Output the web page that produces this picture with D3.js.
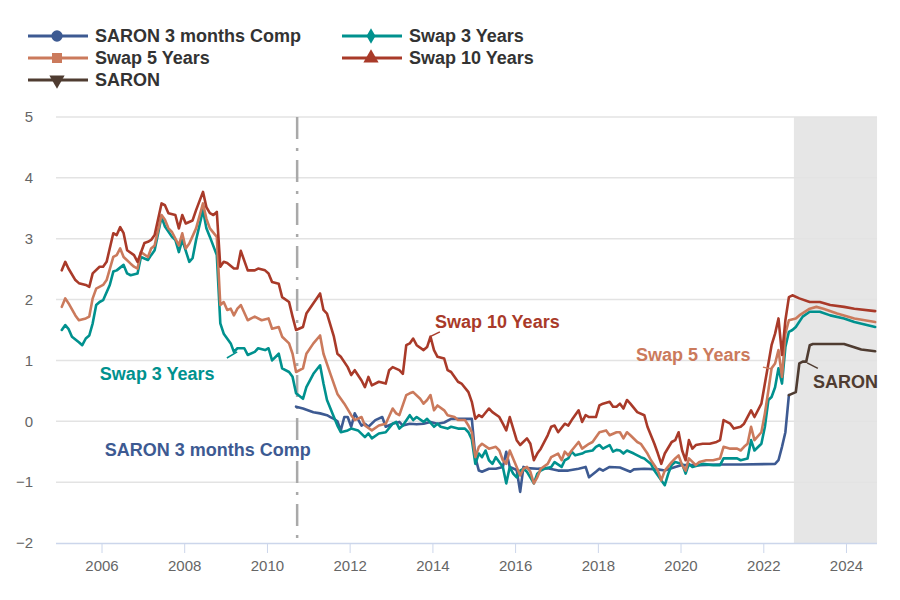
<!DOCTYPE html>
<html lang="en">
	<head>
		<meta charset="UTF-8" />
		<title>SARON and CHF swap rates</title>
		<style>
			html,
			body {
				margin: 0;
				padding: 0;
				width: 900px;
				height: 600px;
				overflow: hidden;
				background-color: #ffffff;
				font-family: 'Liberation Sans', Arial, sans-serif;
			}

			#chart {
				position: absolute;
				top: 0;
				left: 0;
			}

			.tick-label {
				fill: #666666;
				font-size: 15px;
			}

			.legend-label,
			.note {
				font-size: 18px;
				font-weight: bold;
			}
		</style>
	</head>
	<body>
		<svg id="chart"></svg>

		<script src="https://d3js.org/d3.v7.min.js"></script>

		<script>
			// monthly readings, [yyyy-mm, percent]
			const saronComp = [
				['2010-09', 0.24], ['2010-11', 0.21], ['2011-02', 0.15], ['2011-04', 0.13], ['2011-06', 0.1],
				['2011-07', 0.07], ['2011-08', 0.04], ['2011-09', 0.0], ['2011-10', -0.15], ['2011-11', 0.07],
				['2011-12', 0.07], ['2012-01', -0.09], ['2012-02', 0.13], ['2012-04', -0.07], ['2012-05', -0.04],
				['2012-06', -0.09], ['2012-08', 0.02], ['2012-10', 0.07], ['2012-11', -0.09], ['2013-01', -0.04],
				['2013-03', -0.01], ['2013-04', -0.07], ['2013-06', -0.04], ['2013-08', -0.05], ['2013-10', -0.04],
				['2013-12', -0.01], ['2014-02', -0.04], ['2014-04', -0.02], ['2014-06', 0.04], ['2014-08', 0.04],
				['2014-10', 0.04], ['2014-12', 0.04], ['2015-01', -0.59], ['2015-02', -0.81], ['2015-03', -0.83],
				['2015-05', -0.78], ['2015-07', -0.78], ['2015-09', -0.75], ['2015-10', -0.5], ['2015-11', -0.75],
				['2016-01', -0.8], ['2016-02', -1.16], ['2016-03', -0.75], ['2016-04', -0.77], ['2016-07', -0.78],
				['2016-10', -0.77], ['2017-01', -0.81], ['2017-04', -0.81], ['2017-07', -0.78], ['2017-09', -0.75],
				['2017-10', -0.92], ['2017-12', -0.83], ['2018-01', -0.78], ['2018-02', -0.81], ['2018-04', -0.75],
				['2018-07', -0.76], ['2018-10', -0.83], ['2018-11', -0.79], ['2019-02', -0.78], ['2019-06', -0.79],
				['2019-08', -0.81], ['2019-09', -0.79], ['2019-11', -0.75], ['2020-01', -0.72], ['2020-06', -0.72],
				['2020-12', -0.71], ['2021-06', -0.71], ['2022-04', -0.7], ['2022-05', -0.64], ['2022-06', -0.42],
				['2022-07', -0.18], ['2022-08', 0.43]
			];

			const swap3 = [
				['2005-01', 1.5], ['2005-02', 1.58], ['2005-03', 1.52], ['2005-04', 1.39], ['2005-06', 1.3],
				['2005-07', 1.25], ['2005-08', 1.36], ['2005-09', 1.41], ['2005-10', 1.61], ['2005-11', 1.91],
				['2005-12', 1.96], ['2006-01', 1.99], ['2006-03', 2.24], ['2006-04', 2.46], ['2006-05', 2.48],
				['2006-07', 2.57], ['2006-08', 2.43], ['2006-09', 2.4], ['2006-11', 2.43], ['2006-12', 2.7],
				['2007-02', 2.65], ['2007-03', 2.73], ['2007-04', 2.81], ['2007-06', 3.36], ['2007-07', 3.2],
				['2007-09', 3.03], ['2007-10', 2.98], ['2007-11', 2.78], ['2007-12', 2.98], ['2008-02', 2.62],
				['2008-03', 2.68], ['2008-04', 2.98], ['2008-06', 3.47], ['2008-07', 3.17], ['2008-08', 3.03],
				['2008-10', 2.73], ['2008-11', 1.61], ['2008-12', 1.44], ['2009-02', 1.28], ['2009-03', 1.14],
				['2009-04', 1.2], ['2009-06', 1.2], ['2009-07', 1.09], ['2009-09', 1.14], ['2009-10', 1.2],
				['2009-12', 1.17], ['2010-01', 1.2], ['2010-02', 1.0], ['2010-04', 1.11], ['2010-05', 0.87],
				['2010-07', 0.81], ['2010-08', 0.73], ['2010-09', 0.46], ['2010-11', 0.37], ['2010-12', 0.56],
				['2011-02', 0.78], ['2011-04', 0.92], ['2011-05', 0.62], ['2011-06', 0.35], ['2011-08', 0.07],
				['2011-09', -0.07], ['2011-10', -0.18], ['2011-12', -0.15], ['2012-01', -0.12], ['2012-03', -0.15],
				['2012-05', -0.26], ['2012-06', -0.2], ['2012-07', -0.28], ['2012-09', -0.2], ['2012-11', -0.18],
				['2013-01', -0.04], ['2013-02', -0.01], ['2013-03', -0.12], ['2013-04', -0.07], ['2013-06', 0.1],
				['2013-07', 0.02], ['2013-08', 0.07], ['2013-10', -0.01], ['2013-11', 0.04], ['2014-01', -0.09],
				['2014-02', -0.04], ['2014-03', -0.09], ['2014-05', -0.12], ['2014-06', -0.09], ['2014-08', -0.12],
				['2014-10', -0.12], ['2014-11', -0.18], ['2014-12', -0.3], ['2015-01', -0.7], ['2015-02', -0.53],
				['2015-03', -0.59], ['2015-04', -0.48], ['2015-05', -0.64], ['2015-06', -0.7], ['2015-07', -0.59],
				['2015-09', -0.75], ['2015-10', -1.02], ['2015-11', -0.75], ['2015-12', -0.86], ['2016-01', -0.92],
				['2016-02', -0.81], ['2016-03', -0.78], ['2016-04', -0.83], ['2016-06', -1.02], ['2016-07', -0.86],
				['2016-08', -0.81], ['2016-09', -0.78], ['2016-11', -0.75], ['2016-12', -0.67], ['2017-02', -0.75],
				['2017-03', -0.64], ['2017-04', -0.61], ['2017-05', -0.5], ['2017-06', -0.56], ['2017-08', -0.53],
				['2017-09', -0.5], ['2017-11', -0.48], ['2017-12', -0.42], ['2018-01', -0.39], ['2018-02', -0.45],
				['2018-04', -0.39], ['2018-05', -0.5], ['2018-06', -0.47], ['2018-07', -0.48], ['2018-08', -0.53],
				['2018-09', -0.48], ['2018-11', -0.53], ['2019-01', -0.59], ['2019-02', -0.61], ['2019-04', -0.7],
				['2019-05', -0.81], ['2019-07', -0.97], ['2019-08', -1.05], ['2019-09', -0.86], ['2019-10', -0.72],
				['2019-11', -0.67], ['2020-01', -0.7], ['2020-02', -0.86], ['2020-03', -0.7], ['2020-04', -0.75],
				['2020-07', -0.7], ['2020-10', -0.72], ['2020-12', -0.72], ['2021-01', -0.61], ['2021-03', -0.61],
				['2021-05', -0.61], ['2021-06', -0.64], ['2021-08', -0.61], ['2021-09', -0.31], ['2021-10', -0.48],
				['2021-12', -0.37], ['2022-01', -0.09], ['2022-02', 0.35], ['2022-03', 0.4], ['2022-04', 0.56],
				['2022-05', 0.87], ['2022-06', 0.62], ['2022-07', 1.22], ['2022-08', 1.47], ['2022-09', 1.5],
				['2022-10', 1.55], ['2022-12', 1.72], ['2023-02', 1.8], ['2023-05', 1.8], ['2023-08', 1.74],
				['2023-12', 1.69], ['2024-03', 1.63], ['2024-09', 1.55]
			];

			const swap5 = [
				['2005-01', 1.88], ['2005-02', 2.02], ['2005-03', 1.94], ['2005-05', 1.74], ['2005-06', 1.66],
				['2005-08', 1.69], ['2005-09', 1.72], ['2005-10', 2.02], ['2005-11', 2.18], ['2006-01', 2.24],
				['2006-02', 2.32], ['2006-04', 2.7], ['2006-05', 2.73], ['2006-06', 2.84], ['2006-07', 2.7],
				['2006-09', 2.59], ['2006-10', 2.54], ['2006-11', 2.51], ['2006-12', 2.78], ['2007-02', 2.7],
				['2007-03', 2.84], ['2007-04', 2.89], ['2007-06', 3.39], ['2007-07', 3.31], ['2007-08', 3.17],
				['2007-09', 3.11], ['2007-11', 2.89], ['2007-12', 3.09], ['2008-01', 2.84], ['2008-02', 2.92],
				['2008-04', 3.17], ['2008-06', 3.58], ['2008-07', 3.33], ['2008-08', 3.17], ['2008-10', 3.03],
				['2008-11', 1.91], ['2008-12', 1.96], ['2009-01', 1.83], ['2009-02', 1.85], ['2009-03', 1.74],
				['2009-04', 1.85], ['2009-05', 1.91], ['2009-07', 1.66], ['2009-08', 1.69], ['2009-09', 1.72],
				['2009-11', 1.66], ['2010-01', 1.69], ['2010-02', 1.52], ['2010-04', 1.55], ['2010-05', 1.39],
				['2010-07', 1.28], ['2010-08', 1.11], ['2010-09', 0.81], ['2010-11', 0.87], ['2010-12', 1.11],
				['2011-02', 1.28], ['2011-04', 1.41], ['2011-05', 1.11], ['2011-07', 0.78], ['2011-09', 0.45],
				['2011-11', 0.29], ['2012-01', 0.1], ['2012-02', 0.02], ['2012-04', 0.07], ['2012-05', -0.07],
				['2012-07', -0.15], ['2012-09', -0.07], ['2012-11', -0.04], ['2013-01', 0.21], ['2013-02', 0.13],
				['2013-03', 0.1], ['2013-05', 0.43], ['2013-06', 0.46], ['2013-07', 0.48], ['2013-09', 0.37],
				['2013-10', 0.29], ['2013-11', 0.35], ['2013-12', 0.43], ['2014-01', 0.18], ['2014-02', 0.26],
				['2014-04', 0.18], ['2014-05', 0.1], ['2014-07', 0.07], ['2014-08', 0.02], ['2014-10', 0.02],
				['2014-11', -0.07], ['2014-12', -0.18], ['2015-01', -0.59], ['2015-02', -0.42], ['2015-03', -0.37],
				['2015-05', -0.45], ['2015-07', -0.42], ['2015-08', -0.48], ['2015-09', -0.64], ['2015-10', -0.7],
				['2015-11', -0.48], ['2016-01', -0.75], ['2016-02', -0.89], ['2016-03', -0.78], ['2016-04', -0.75],
				['2016-05', -0.83], ['2016-06', -1.02], ['2016-07', -0.92], ['2016-08', -0.78], ['2016-10', -0.7],
				['2016-11', -0.59], ['2017-01', -0.53], ['2017-02', -0.64], ['2017-03', -0.5], ['2017-04', -0.56],
				['2017-05', -0.48], ['2017-07', -0.34], ['2017-08', -0.45], ['2017-10', -0.37], ['2017-11', -0.34],
				['2018-01', -0.18], ['2018-03', -0.15], ['2018-04', -0.23], ['2018-06', -0.18], ['2018-07', -0.18],
				['2018-08', -0.28], ['2018-09', -0.18], ['2018-10', -0.23], ['2018-12', -0.34], ['2019-01', -0.37],
				['2019-03', -0.53], ['2019-04', -0.64], ['2019-06', -0.81], ['2019-07', -0.97], ['2019-08', -0.81],
				['2019-10', -0.67], ['2019-11', -0.61], ['2019-12', -0.56], ['2020-01', -0.72], ['2020-02', -0.81],
				['2020-03', -0.61], ['2020-05', -0.72], ['2020-06', -0.67], ['2020-08', -0.64], ['2020-10', -0.64],
				['2020-12', -0.61], ['2021-01', -0.42], ['2021-03', -0.45], ['2021-05', -0.45], ['2021-06', -0.48],
				['2021-07', -0.42], ['2021-08', -0.37], ['2021-09', -0.09], ['2021-10', -0.31], ['2021-12', -0.18],
				['2022-01', 0.13], ['2022-02', 0.51], ['2022-03', 0.87], ['2022-04', 0.95], ['2022-05', 1.17],
				['2022-06', 0.73], ['2022-07', 1.44], ['2022-08', 1.66], ['2022-10', 1.69], ['2022-11', 1.74],
				['2023-02', 1.85], ['2023-04', 1.88], ['2023-06', 1.85], ['2023-10', 1.77], ['2024-03', 1.69],
				['2024-09', 1.63]
			];

			const swap10 = [
				['2005-01', 2.48], ['2005-02', 2.62], ['2005-03', 2.51], ['2005-05', 2.32], ['2005-06', 2.27],
				['2005-08', 2.24], ['2005-09', 2.21], ['2005-10', 2.43], ['2005-12', 2.54], ['2006-01', 2.54],
				['2006-02', 2.62], ['2006-04', 3.09], ['2006-05', 3.06], ['2006-06', 3.19], ['2006-07', 3.09],
				['2006-08', 2.81], ['2006-10', 2.73], ['2006-11', 2.62], ['2007-01', 2.93], ['2007-02', 2.95],
				['2007-03', 2.98], ['2007-04', 3.06], ['2007-06', 3.58], ['2007-07', 3.55], ['2007-08', 3.42],
				['2007-10', 3.39], ['2007-11', 3.17], ['2007-12', 3.39], ['2008-01', 3.25], ['2008-03', 3.3],
				['2008-04', 3.47], ['2008-06', 3.77], ['2008-07', 3.52], ['2008-08', 3.42], ['2008-09', 3.39],
				['2008-10', 3.44], ['2008-11', 2.54], ['2008-12', 2.62], ['2009-01', 2.6], ['2009-03', 2.51],
				['2009-04', 2.51], ['2009-05', 2.8], ['2009-07', 2.48], ['2009-09', 2.48], ['2009-10', 2.51],
				['2009-12', 2.48], ['2010-01', 2.43], ['2010-02', 2.29], ['2010-04', 2.26], ['2010-05', 2.04],
				['2010-07', 1.96], ['2010-08', 1.72], ['2010-09', 1.5], ['2010-11', 1.55], ['2010-12', 1.77],
				['2011-02', 1.94], ['2011-04', 2.1], ['2011-05', 1.83], ['2011-06', 1.77], ['2011-08', 1.39],
				['2011-09', 1.11], ['2011-10', 1.06], ['2011-12', 0.89], ['2012-01', 0.76], ['2012-02', 0.84],
				['2012-04', 0.67], ['2012-05', 0.56], ['2012-06', 0.73], ['2012-07', 0.59], ['2012-09', 0.65],
				['2012-11', 0.62], ['2012-12', 0.84], ['2013-01', 0.89], ['2013-03', 0.84], ['2013-04', 0.78],
				['2013-05', 1.25], ['2013-06', 1.28], ['2013-07', 1.36], ['2013-08', 1.25], ['2013-10', 1.17],
				['2013-11', 1.22], ['2013-12', 1.39], ['2014-01', 1.17], ['2014-02', 1.06], ['2014-04', 1.03],
				['2014-05', 0.84], ['2014-06', 0.81], ['2014-08', 0.65], ['2014-09', 0.62], ['2014-11', 0.48],
				['2014-12', 0.32], ['2015-01', 0.04], ['2015-02', 0.1], ['2015-03', 0.07], ['2015-05', 0.21],
				['2015-06', 0.15], ['2015-08', 0.07], ['2015-09', -0.04], ['2015-10', -0.15], ['2015-11', 0.07],
				['2016-01', -0.31], ['2016-02', -0.39], ['2016-04', -0.28], ['2016-05', -0.37], ['2016-06', -0.64],
				['2016-07', -0.53], ['2016-08', -0.45], ['2016-10', -0.23], ['2016-11', -0.09], ['2016-12', -0.07],
				['2017-01', -0.18], ['2017-03', -0.04], ['2017-04', -0.07], ['2017-05', 0.02], ['2017-07', 0.18],
				['2017-08', -0.01], ['2017-09', 0.1], ['2017-10', 0.07], ['2017-12', 0.07], ['2018-01', 0.26],
				['2018-02', 0.29], ['2018-04', 0.32], ['2018-05', 0.24], ['2018-06', 0.24], ['2018-07', 0.29],
				['2018-08', 0.21], ['2018-09', 0.35], ['2018-10', 0.29], ['2018-12', 0.15], ['2019-02', 0.1],
				['2019-03', -0.09], ['2019-05', -0.37], ['2019-06', -0.53], ['2019-07', -0.7], ['2019-08', -0.53],
				['2019-10', -0.34], ['2019-11', -0.31], ['2019-12', -0.18], ['2020-01', -0.48], ['2020-02', -0.64],
				['2020-03', -0.31], ['2020-04', -0.45], ['2020-05', -0.39], ['2020-07', -0.37], ['2020-09', -0.37],
				['2020-11', -0.34], ['2020-12', -0.31], ['2021-01', 0.02], ['2021-03', -0.04], ['2021-04', -0.12],
				['2021-06', -0.09], ['2021-07', -0.04], ['2021-09', 0.18], ['2021-10', 0.07], ['2021-12', 0.29],
				['2022-01', 0.62], ['2022-02', 0.95], ['2022-03', 1.25], ['2022-04', 1.44], ['2022-05', 1.69],
				['2022-06', 1.09], ['2022-07', 1.66], ['2022-08', 2.04], ['2022-09', 2.07], ['2022-11', 2.02],
				['2023-02', 1.96], ['2023-05', 1.96], ['2023-08', 1.91], ['2023-12', 1.88], ['2024-03', 1.85],
				['2024-09', 1.81]
			];

			const saron = [
				['2022-08', 0.43], ['2022-10', 0.48], ['2022-11', 0.95], ['2022-12', 0.98], ['2023-01', 0.98],
				['2023-02', 1.25], ['2023-03', 1.27], ['2023-12', 1.27], ['2024-05', 1.18], ['2024-09', 1.15]
			];

			const yTicks = [-2, -1, 0, 1, 2, 3, 4, 5];
			const xTickYears = [2006, 2008, 2010, 2012, 2014, 2016, 2018, 2020, 2022, 2024];

			// dash-dot marker and shaded window, in decimal years
			const markerYear = 2010.73;
			const shadeYears = [2022.74, 2024.75];

			// label text, anchor [year, value], leader [[year, value], [year, value]]
			const notes = [
				{ text: 'Swap 10 Years', key: 'swap10', at: [2014.06, 1.63], leader: [[2013.97, 1.4], [2014.18, 1.47]] },
				{ text: 'Swap 5 Years', key: 'swap5', at: [2018.92, 1.09], leader: [[2021.99, 0.89], [2022.21, 0.86]] },
				{ text: 'SARON', key: 'saron', at: [2023.2, 0.65], leader: [[2023.06, 0.96], [2023.32, 0.87]] },
				{ text: 'Swap 3 Years', key: 'swap3', at: [2005.96, 0.79], leader: [[2009.03, 1.04], [2009.28, 1.14]] },
				{ text: 'SARON 3 months Comp', key: 'saronComp', at: [2006.08, -0.47], leader: null }
			];

			const series = [
				{ key: 'saronComp', name: 'SARON 3 months Comp', color: '#3d5a92', symbol: d3.symbolCircle, data: saronComp },
				{ key: 'swap3', name: 'Swap 3 Years', color: '#00918e', symbol: d3.symbolDiamond, data: swap3 },
				{ key: 'swap5', name: 'Swap 5 Years', color: '#cb7a5c', symbol: d3.symbolSquare, data: swap5 },
				{ key: 'swap10', name: 'Swap 10 Years', color: '#a93a29', symbol: d3.symbolTriangle, data: swap10 },
				{ key: 'saron', name: 'SARON', color: '#4f3c31', symbol: d3.symbolTriangle, flip: true, data: saron }
			];
			const colorOf = Object.fromEntries(series.map((s) => [s.key, s.color]));

			const width = 900;
			const height = 600;
			const margin = { top: 117, right: 23, bottom: 57, left: 56 };
			const plotRight = width - margin.right;

			const svg = d3.select('#chart').attr('width', width).attr('height', height);

			const parseMonth = d3.timeParse('%Y-%m');
			const monthMid = (m) => d3.timeDay.offset(parseMonth(m), 14);
			const yearToDate = (t) => {
				const y0 = Math.floor(t);
				const start = new Date(y0, 0, 1);
				const end = new Date(y0 + 1, 0, 1);
				return new Date(+start + (t - y0) * (end - start));
			};

			const x = d3
				.scaleTime()
				.domain([new Date(2004, 10, 25), new Date(2024, 9, 1)])
				.range([margin.left, plotRight]);

			const y = d3
				.scaleLinear()
				.domain([-2, 5])
				.range([height - margin.bottom, margin.top]);

			// shaded band
			svg.append('rect')
				.attr('x', x(yearToDate(shadeYears[0])))
				.attr('y', margin.top)
				.attr('width', x(yearToDate(shadeYears[1])) - x(yearToDate(shadeYears[0])))
				.attr('height', height - margin.bottom - margin.top)
				.attr('fill', '#e6e6e6');

			// horizontal grid
			svg.append('g')
				.selectAll('line')
				.data(yTicks.filter((d) => d !== -2))
				.join('line')
				.attr('x1', margin.left)
				.attr('x2', plotRight)
				.attr('y1', (d) => y(d))
				.attr('y2', (d) => y(d))
				.attr('stroke', '#e3e3e3')
				.attr('stroke-width', 1.5);

			// y labels
			const yAxis = svg
				.append('g')
				.attr('transform', `translate(${margin.left - 23},0)`)
				.call(d3.axisLeft(y).tickValues(yTicks).tickSize(0).tickPadding(0).tickFormat(d3.format('d')));
			yAxis.select('.domain').remove();
			yAxis.selectAll('text').attr('class', 'tick-label').attr('font-family', null).attr('font-size', null);

			// x axis
			const xAxis = svg
				.append('g')
				.attr('transform', `translate(0,${height - margin.bottom})`)
				.call(
					d3
						.axisBottom(x)
						.tickValues(xTickYears.map((yr) => new Date(yr, 0, 1)))
						.tickFormat(d3.timeFormat('%Y'))
						.tickSize(10)
						.tickPadding(7)
				);
			xAxis.select('.domain').attr('stroke', '#ccd6eb').attr('stroke-width', 1.5).attr('d', `M${margin.left},0.5H${plotRight}`);
			xAxis.selectAll('.tick line').attr('stroke', '#ccd6eb');
			xAxis.selectAll('text').attr('class', 'tick-label').attr('font-family', null).attr('font-size', null);

			// dash-dot vertical marker
			svg.append('line')
				.attr('x1', x(yearToDate(markerYear)))
				.attr('x2', x(yearToDate(markerYear)))
				.attr('y1', margin.top)
				.attr('y2', height - margin.bottom)
				.attr('stroke', '#a9a9a9')
				.attr('stroke-width', 2.5)
				.attr('stroke-dasharray', '22,9,3,9');

			const line = d3
				.line()
				.x((d) => x(monthMid(d[0])))
				.y((d) => y(d[1]));

			svg.append('g')
				.selectAll('path')
				.data(series)
				.join('path')
				.attr('d', (s) => line(s.data))
				.attr('fill', 'none')
				.attr('stroke', (s) => s.color)
				.attr('stroke-width', 2.6)
				.attr('stroke-linejoin', 'round')
				.attr('stroke-linecap', 'round');

			// in-plot labels
			const noteGroup = svg.append('g');
			notes.forEach((n) => {
				if (n.leader) {
					noteGroup
						.append('line')
						.attr('x1', x(yearToDate(n.leader[0][0])))
						.attr('y1', y(n.leader[0][1]))
						.attr('x2', x(yearToDate(n.leader[1][0])))
						.attr('y2', y(n.leader[1][1]))
						.attr('stroke', colorOf[n.key])
						.attr('stroke-width', 1.5);
				}
				noteGroup
					.append('text')
					.attr('class', 'note')
					.attr('x', x(yearToDate(n.at[0])))
					.attr('y', y(n.at[1]))
					.attr('dy', '0.35em')
					.attr('fill', colorOf[n.key])
					.text(n.text);
			});

			// legend, two columns
			const legendCols = [28, 342];
			const legendRows = [36, 58, 80];
			const legend = svg
				.append('g')
				.selectAll('g')
				.data(series)
				.join('g')
				.attr('transform', (s, i) => `translate(${legendCols[i % 2]},${legendRows[Math.floor(i / 2)]})`);

			legend
				.append('line')
				.attr('x1', 0)
				.attr('x2', 60)
				.attr('stroke', (s) => s.color)
				.attr('stroke-width', 3);

			legend
				.append('path')
				.attr('d', (s) => d3.symbol(s.symbol, s.symbol === d3.symbolDiamond ? 70 : 100)())
				.attr('transform', (s) => `translate(29,0)${s.flip ? ' rotate(180)' : ''}`)
				.attr('fill', (s) => s.color);

			legend
				.append('text')
				.attr('class', 'legend-label')
				.attr('x', 67)
				.attr('dy', '0.35em')
				.attr('fill', '#333333')
				.text((s) => s.name);
		</script>
	</body>
</html>
